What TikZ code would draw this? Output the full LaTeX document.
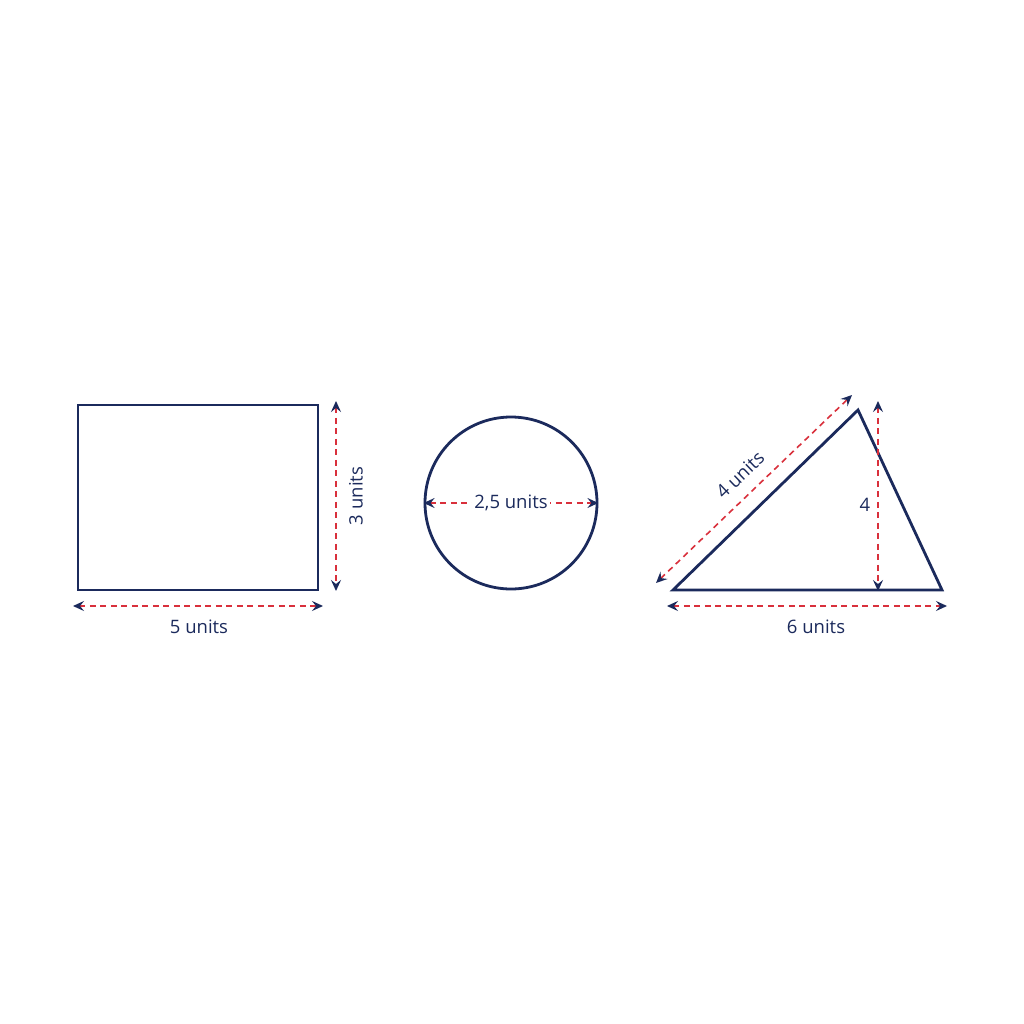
\documentclass[tikz,border=0pt]{standalone}
\usepackage{fontspec}
\setmainfont{Open Sans}
\usetikzlibrary{arrows.meta}
\definecolor{navy}{HTML}{1B2A5C}
\definecolor{dimred}{HTML}{D9303C}
\tikzset{
  shape line/.style={draw=navy, line width=2.8pt, line join=miter},
  dimline/.style={draw=dimred, line width=1.6pt, dash pattern=on 6pt off 4.5pt,
    {Stealth[length=11pt,width=10pt,inset=4pt,color=navy]}-{Stealth[length=11pt,width=10pt,inset=4pt,color=navy]}},
  lbl/.style={text=navy, font=\fontsize{18.5}{20}\selectfont, inner sep=1pt},
}
\begin{document}
\begin{tikzpicture}[x=1pt,y=-1pt]
\useasboundingbox (0,0) rectangle (1024,1024);
\fill[white] (0,0) rectangle (1024,1024);
% rectangle
\coordinate (r1) at (78,405);
\coordinate (r2) at (318,590);
\draw[shape line] (r1) rectangle (r2);
\coordinate (rvt) at (336,401);
\coordinate (rvb) at (336,591);
\draw[dimline] (rvt) -- (rvb);
\node[lbl, rotate=90] (rvl) at (356,496) {3 units};
\coordinate (rhl) at (73,606);
\coordinate (rhr) at (323,606);
\draw[dimline] (rhl) -- (rhr);
\node[lbl] (rhlab) at (199,627) {5 units};
% circle
\node[draw=navy, line width=2.8pt, circle, minimum size=172pt, inner sep=0pt] (circ) at (511,503) {};
\draw[dimline] (circ.west) -- (circ.east);
\node[lbl, fill=white, inner sep=2pt] (clab) at (511,503) {2,5 units};
% triangle
\coordinate (ta) at (673,590);
\coordinate (tb) at (858,410);
\coordinate (tc) at (942,590);
\draw[shape line] (ta) -- (tb) -- (tc) -- cycle;
\coordinate (sd1) at (656,583);
\coordinate (sd2) at (852,395);
\draw[dimline] (sd1) -- (sd2);
\node[lbl, rotate=43.8] (slab) at (740,475) {4 units};
\coordinate (ht) at (878,401);
\coordinate (hb) at (878,591);
\draw[dimline] (ht) -- (hb);
\node[lbl] (hlab) at (865,505) {4};
\coordinate (bl) at (667,606);
\coordinate (br) at (947,606);
\draw[dimline] (bl) -- (br);
\node[lbl] (blab) at (816,627) {6 units};
\end{tikzpicture}
\end{document}
